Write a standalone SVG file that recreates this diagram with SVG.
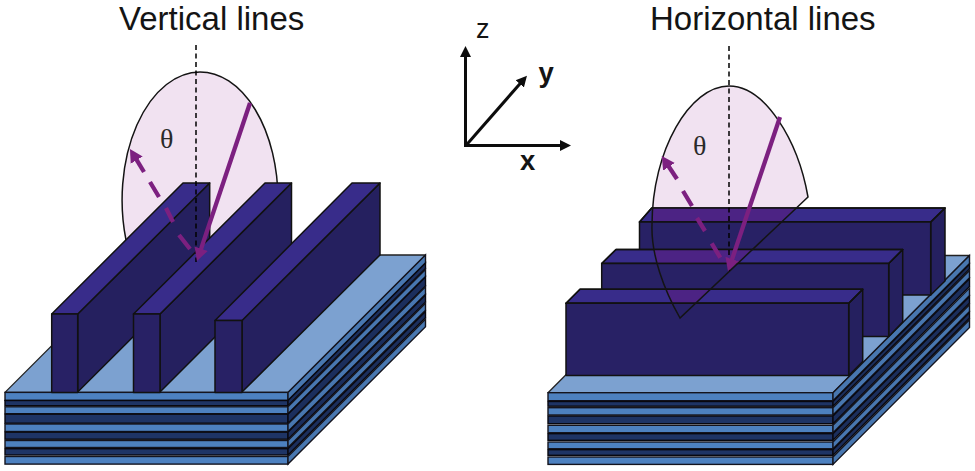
<svg xmlns="http://www.w3.org/2000/svg" width="975" height="471" viewBox="0 0 975 471">
<style>
.lab{font-family:"Liberation Sans",Arial,sans-serif;fill:#141414}
.ttl{font-size:33px}
.ax{font-size:27px}
.axb{font-size:27.5px;font-weight:bold}
.th{font-family:"Liberation Serif","Times New Roman",serif;font-size:28px;fill:#2a2a2a}
.top{fill:#7ca1d0;stroke:#222;stroke-width:1.3;stroke-linejoin:round}
.l{fill:#4d81c0;stroke:#14141e;stroke-width:1.4}
.d{fill:#1e3465;stroke:#08080f;stroke-width:1.4}
.sl{fill:#4877b0;stroke:#14141e;stroke-width:1.4}
.sd{fill:#1b2e5c;stroke:#08080f;stroke-width:1.4}
.ff{fill:#282165;stroke:#111;stroke-width:1.5;stroke-linejoin:round}
.fs{fill:#25205f;stroke:#111;stroke-width:1.5;stroke-linejoin:round}
.ft{fill:#382c8a;stroke:#111;stroke-width:1.5;stroke-linejoin:round}
.tint{fill:#4c2384;stroke:none}
.edge{fill:none;stroke:#111;stroke-width:1.5;stroke-linejoin:round}
.pink{fill:#f1e2f1;stroke:none}
.arc{fill:none;stroke:#141414;stroke-width:1.5}
.nrm{stroke:#000;stroke-width:1.5;stroke-dasharray:5 3.5;fill:none}
.pur{stroke:#7c2080;stroke-width:4.3;fill:none}
.axl{stroke:#0c0c0c;stroke-width:3;fill:none}
</style>
<defs>
<marker id="pa" markerUnits="userSpaceOnUse" markerWidth="15" markerHeight="16" refX="1" refY="8" orient="auto"><path d="M0,1 L13,8 L0,15 Z" fill="#7c2080"/></marker>
<marker id="aa" markerUnits="userSpaceOnUse" markerWidth="13" markerHeight="14" refX="1" refY="7" orient="auto"><path d="M0,1.5 L11,7 L0,12.5 Z" fill="#0c0c0c"/></marker>
<clipPath id="rcone"><path d="M680,318 C664,290 651,255 652,225 C652,150 690,86 729,86 C765,86 798,140 808,197 Z"/></clipPath>
</defs>

<g id="title-left"><text class="lab ttl" x="119" y="29.9">Vertical lines</text></g>
<g id="title-right"><text class="lab ttl" x="650" y="29.9">Horizontal lines</text></g>

<g id="cone-left">
<path class="pink" d="M126,240 A78,128 0 0 1 200,72 A78,128 0 0 1 278,200 L197,262 Z"/>
<path class="arc" d="M126,240 A78,128 0 0 1 200,72 A78,128 0 0 1 278,200"/>
<text class="th" x="160" y="148">θ</text>
</g>

<g id="stack-left">
<polygon class="top" points="5,392.4 288,392.4 425.5,255 142.5,255"/>
<g id="stack-left-front">
<rect class="l" x="5" y="392.4" width="283" height="8"/>
<rect class="d" x="5" y="400.5" width="283" height="5.2"/>
<rect class="l" x="5" y="406.8" width="283" height="6.9"/>
<rect class="d" x="5" y="414.2" width="283" height="9"/>
<rect class="l" x="5" y="424" width="283" height="7.5"/>
<rect class="d" x="5" y="432.2" width="283" height="7"/>
<rect class="l" x="5" y="440.5" width="283" height="7"/>
<rect class="d" x="5" y="448.7" width="283" height="6.3"/>
<rect class="l" x="5" y="456.5" width="283" height="7.6"/>
</g>
<g id="stack-left-side">
<polygon class="sl" points="288,392.4 425.5,255 425.5,263 288,400.5"/>
<polygon class="sd" points="288,400.5 425.5,263 425.5,268.5 288,405.7"/>
<polygon class="sl" points="288,406.8 425.5,269.5 425.5,276.5 288,413.7"/>
<polygon class="sd" points="288,414.2 425.5,277 425.5,286 288,423.2"/>
<polygon class="sl" points="288,424 425.5,286.7 425.5,294.2 288,431.5"/>
<polygon class="sd" points="288,432.2 425.5,295 425.5,302 288,439.2"/>
<polygon class="sl" points="288,440.5 425.5,303.2 425.5,310.2 288,447.5"/>
<polygon class="sd" points="288,448.7 425.5,311.5 425.5,317.8 288,455"/>
<polygon class="sl" points="288,456.5 425.5,319.2 425.5,326.8 288,464.1"/>
</g>
</g>

<g id="fin-left-1">
<polygon class="fs" points="77.7,314 209.7,183 209.7,260.5 77.7,392"/>
<polygon class="ft" points="51.7,314 77.7,314 209.7,183 183,183"/>
<rect class="ff" x="51.7" y="314" width="26" height="78.4"/>
</g>
<g id="fin-left-2">
<polygon class="fs" points="160,314 291.5,183 291.5,260.5 160,392"/>
<polygon class="ft" points="133.5,314 160,314 291.5,183 265,183"/>
<rect class="ff" x="133.5" y="314" width="26.5" height="78.4"/>
</g>
<g id="fin-left-3">
<polygon class="fs" points="242,320.5 380,183 380,255 242,392"/>
<polygon class="ft" points="215,320.5 242,320.5 380,183 352,183"/>
<rect class="ff" x="215" y="320.5" width="27" height="71.9"/>
</g>

<g id="cone-right">
<path class="pink" d="M680,318 C664,290 651,255 652,225 C652,150 690,86 729,86 C765,86 798,140 808,197 Z"/>
<text class="th" x="693" y="155">θ</text>
</g>

<g id="stack-right">
<polygon class="top" points="548,392.7 833,392.7 969.5,255.5 685,255.5"/>
<g id="stack-right-front">
<rect class="l" x="548" y="392.7" width="285" height="8"/>
<rect class="d" x="548" y="401.5" width="285" height="4.7"/>
<rect class="l" x="548" y="407.7" width="285" height="7.3"/>
<rect class="d" x="548" y="416" width="285" height="7.7"/>
<rect class="l" x="548" y="425.3" width="285" height="7.4"/>
<rect class="d" x="548" y="433.7" width="285" height="6.6"/>
<rect class="l" x="548" y="442" width="285" height="6.7"/>
<rect class="d" x="548" y="449.7" width="285" height="5.6"/>
<rect class="l" x="548" y="457" width="285" height="7.4"/>
</g>
<g id="stack-right-side">
<polygon class="sl" points="833,392.7 969.5,255.5 969.5,263.5 833,400.7"/>
<polygon class="sd" points="833,401.5 969.5,264.3 969.5,269 833,406.2"/>
<polygon class="sl" points="833,407.7 969.5,270.5 969.5,277.8 833,415"/>
<polygon class="sd" points="833,416 969.5,278.8 969.5,286.5 833,423.7"/>
<polygon class="sl" points="833,425.3 969.5,288.1 969.5,295.5 833,432.7"/>
<polygon class="sd" points="833,433.7 969.5,296.5 969.5,303.1 833,440.3"/>
<polygon class="sl" points="833,442 969.5,304.8 969.5,311.5 833,448.7"/>
<polygon class="sd" points="833,449.7 969.5,312.5 969.5,318.1 833,455.3"/>
<polygon class="sl" points="833,457 969.5,319.8 969.5,327.5 833,464.4"/>
</g>
</g>

<g id="fin-right-back">
<polygon class="fs" points="930.7,222 945,208 945,281 930.7,295"/>
<polygon class="ft" points="639.5,222 930.7,222 945,208 651.7,208"/>
<polygon class="tint" clip-path="url(#rcone)" points="639.5,222 930.7,222 945,208 651.7,208"/>
<polygon class="edge" points="639.5,222 930.7,222 945,208 651.7,208"/>
<rect class="ff" x="639.5" y="222" width="291.2" height="73"/>
</g>
<g id="fin-right-middle">
<polygon class="fs" points="888.7,263.5 902.7,249.5 902.7,322 888.7,336.5"/>
<polygon class="ft" points="601.7,263.5 888.7,263.5 902.7,249.5 616,249.5"/>
<polygon class="tint" clip-path="url(#rcone)" points="601.7,263.5 888.7,263.5 902.7,249.5 616,249.5"/>
<polygon class="edge" points="601.7,263.5 888.7,263.5 902.7,249.5 616,249.5"/>
<rect class="ff" x="601.7" y="263.5" width="287" height="73"/>
</g>
<g id="fin-right-front">
<polygon class="fs" points="848.7,303.3 862.7,289.3 862.7,361.5 848.7,375.5"/>
<polygon class="ft" points="566,303.3 848.7,303.3 862.7,289.3 580,289.3"/>
<polygon class="tint" clip-path="url(#rcone)" points="566,303.3 848.7,303.3 862.7,289.3 580,289.3"/>
<polygon class="edge" points="566,303.3 848.7,303.3 862.7,289.3 580,289.3"/>
<rect class="ff" x="566" y="303.3" width="282.7" height="72.2"/>
</g>
<g id="cone-right-outline">
<path class="arc" d="M680,318 C664,290 651,255 652,225 C652,150 690,86 729,86 C765,86 798,140 808,197 Z"/>
</g>

<g id="connectors">
<line class="nrm" x1="196" y1="45" x2="196" y2="262"/>
<line class="nrm" x1="729" y1="46" x2="729" y2="271"/>
<line class="pur" x1="250" y1="103" x2="200.8" y2="249.6" marker-end="url(#pa)"/>
<line class="pur" x1="144" y1="172" x2="136.2" y2="159.2" marker-end="url(#pa)"/>
<path class="pur" d="M150,182 L159,197 M166,208 L173,222 M179,235 L190,249"/>
<line class="pur" x1="780" y1="117" x2="731.8" y2="260" marker-end="url(#pa)"/>
<line class="pur" x1="677" y1="179" x2="668.4" y2="166" marker-end="url(#pa)"/>
<path class="pur" d="M683,191 L692,206 M697,218 L705,231 M711.7,243.3 L720.3,257.7"/>
<line class="axl" x1="465.5" y1="147" x2="465.5" y2="56" marker-end="url(#aa)"/>
<line class="axl" x1="464" y1="145.5" x2="561" y2="145.5" marker-end="url(#aa)"/>
<line class="axl" x1="465.5" y1="146" x2="520.4" y2="83.2" marker-end="url(#aa)"/>
</g>

<g id="axis-labels">
<text class="lab ax" x="476" y="38">z</text>
<text class="lab axb" x="538.5" y="82">y</text>
<text class="lab axb" x="520" y="170">x</text>
</g>
</svg>
